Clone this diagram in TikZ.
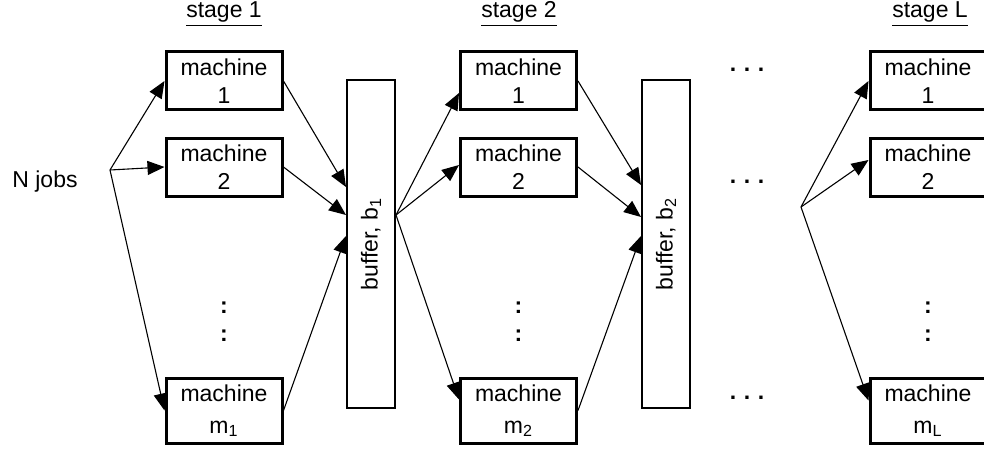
\documentclass[tikz,border=0pt]{standalone}
\usepackage{fontspec}
\setmainfont{Liberation Sans}
\usetikzlibrary{arrows.meta}
\begin{document}
\begin{tikzpicture}[x=0.5pt,y=-0.5pt,
  font=\fontsize{11.5pt}{14pt}\selectfont,
  machine/.style={draw,line width=1.5pt,minimum width=58pt,minimum height=29pt,
    inner sep=0pt,align=center},
  machinem/.style={machine,minimum height=32.5pt,font=\fontsize{11.5pt}{16pt}\selectfont},
  buffer/.style={draw,line width=1pt,minimum width=24pt,minimum height=164pt,inner sep=0pt},
  arr/.style={line width=0.55pt,-{Triangle[length=8.5pt,width=7pt]}},
  stagelbl/.style={inner sep=0pt},
  more/.style={inner sep=0pt,font=\fontsize{11.5pt}{14pt}\selectfont\bfseries}]
\useasboundingbox (0,0) rectangle (984,449);

% stage headings
\node[stagelbl] (h1) at (224,14) {\underline{stage 1}};
\node[stagelbl] (h2) at (519,14) {\underline{stage 2}};
\node[stagelbl] (hL) at (930,14) {\underline{stage L}};

% incoming jobs
\node[anchor=west,inner sep=0pt] (jobs) at (12,182) {N jobs};
\coordinate (f0) at (110,170);

% stage 1
\node[machine]  (s1a) at (224,81)  {machine\\1};
\node[machine]  (s1b) at (224,167) {machine\\2};
\node[machinem] (s1m) at (224,410.5) {machine\\m\textsubscript{1}};
\node[more] (s1d1) at (224,308) {:};
\node[more] (s1d2) at (224,336) {:};
\node[buffer] (buf1) at (371,244) {};
\node[rotate=90,inner sep=0pt] (buf1t) at (buf1.center) {buffer, b\textsubscript{1}};

% stage 2
\node[machine]  (s2a) at (518.5,81)  {machine\\1};
\node[machine]  (s2b) at (518.5,167) {machine\\2};
\node[machinem] (s2m) at (518.5,410.5) {machine\\m\textsubscript{2}};
\node[more] (s2d1) at (518.5,308) {:};
\node[more] (s2d2) at (518.5,336) {:};
\node[buffer] (buf2) at (666,244) {};
\node[rotate=90,inner sep=0pt] (buf2t) at (buf2.center) {buffer, b\textsubscript{2}};

% intermediate stages
\node[more] (e1) at (747,70)  {.\,\,.\,\,.};
\node[more] (e2) at (747,182) {.\,\,.\,\,.};
\node[more] (e3) at (747,398) {.\,\,.\,\,.};

% stage L
\coordinate (fL) at (801,207);
\node[machine]  (sLa) at (928,81)  {machine\\1};
\node[machine]  (sLb) at (928,167) {machine\\2};
\node[machinem] (sLm) at (928,410.5) {machine\\m\textsubscript{L}};
\node[more] (sLd1) at (928,308) {:};
\node[more] (sLd2) at (928,336) {:};

% jobs into stage 1
\draw[arr] (f0) -- (s1a.west);
\draw[arr] (f0) -- (s1b.west);
\draw[arr] (f0) -- (s1m.west);

% stage 1 into buffer 1
\draw[arr] (s1a.east) -- ([yshift=28.5pt]buf1.west);
\draw[arr] (s1b.east) -- ([yshift=14.5pt]buf1.west);
\draw[arr] (s1m.east) -- ([yshift=4pt]buf1.west);

% buffer 1 into stage 2
\coordinate (f1) at ([yshift=14.5pt]buf1.east);
\draw[arr] (f1) -- ([yshift=-6pt]s2a.west);
\draw[arr] (f1) -- ([yshift=1pt]s2b.west);
\draw[arr] (f1) -- ([yshift=5.5pt]s2m.west);

% stage 2 into buffer 2
\draw[arr] (s2a.east) -- ([yshift=29.5pt]buf2.west);
\draw[arr] (s2b.east) -- ([yshift=13.5pt]buf2.west);
\draw[arr] (s2m.east) -- ([yshift=4pt]buf2.west);

% into stage L
\draw[arr] (fL) -- (sLa.west);
\draw[arr] (fL) -- ([yshift=3.5pt]sLb.west);
\draw[arr] (fL) -- ([yshift=5pt]sLm.west);
\end{tikzpicture}
\end{document}
